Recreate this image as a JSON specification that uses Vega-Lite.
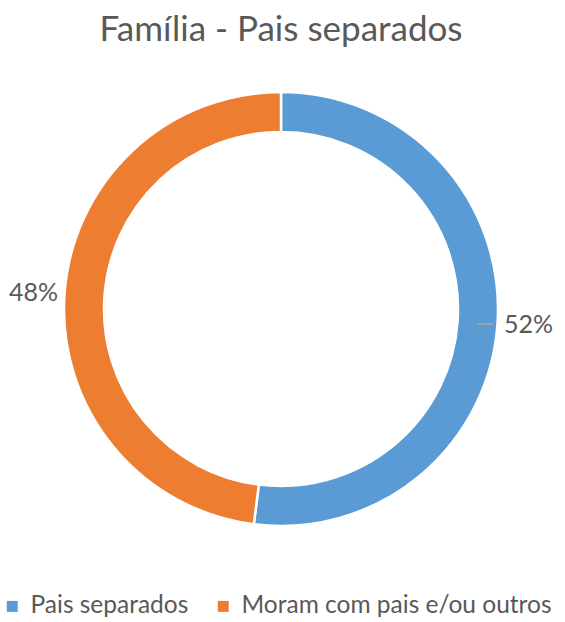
{
  "$schema": "https://vega.github.io/schema/vega-lite/v6.json",
  "autosize": "none",
  "width": 562,
  "height": 498,
  "padding": {"left": 0, "right": 3, "top": 60, "bottom": 64},
  "background": "white",
  "title": {
    "text": "Família - Pais separados",
    "font": "Lato",
    "fontSize": 35,
    "fontWeight": "normal",
    "color": "#595959",
    "anchor": "middle",
    "offset": 12
  },
  "data": {
    "values": [
      {"categoria": "Pais separados", "valor": 52, "rotulo": "52%"},
      {"categoria": "Moram com pais e/ou outros", "valor": 48, "rotulo": "48%"}
    ]
  },
  "encoding": {
    "theta": {"field": "valor", "type": "quantitative", "stack": true},
    "order": {"field": "valor", "type": "quantitative", "sort": "descending"},
    "color": {
      "field": "categoria",
      "type": "nominal",
      "scale": {
        "domain": ["Pais separados", "Moram com pais e/ou outros"],
        "range": ["#5B9BD5", "#ED7D31"]
      },
      "legend": {
        "orient": "bottom",
        "direction": "horizontal",
        "title": null,
        "symbolType": "square",
        "symbolSize": 120,
        "symbolStrokeWidth": 0,
        "labelFont": "Lato",
        "labelFontSize": 24.5,
        "labelLimit": 400,
        "labelColor": "#595959",
        "labelOffset": 6,
        "columnPadding": 22,
        "offset": 36,
        "padding": 0
      }
    }
  },
  "layer": [
    {
      "mark": {"type": "arc", "outerRadius": 217, "innerRadius": 177, "stroke": "white", "strokeWidth": 2.5}
    },
    {
      "mark": {"type": "text", "radius": 204, "font": "Lato", "fontSize": 24, "baseline": "middle", "dy": 2},
      "encoding": {
        "text": {"condition": {"test": "datum.categoria === 'Pais separados'", "value": "—"}, "value": ""},
        "color": {"value": "#A6A6A6"}
      }
    },
    {
      "mark": {"type": "text", "radius": 248, "font": "Lato", "fontSize": 25, "baseline": "middle"},
      "encoding": {
        "text": {"field": "rotulo", "type": "nominal"},
        "color": {"value": "#595959"}
      }
    }
  ],
  "config": {"view": {"stroke": null}}
}
